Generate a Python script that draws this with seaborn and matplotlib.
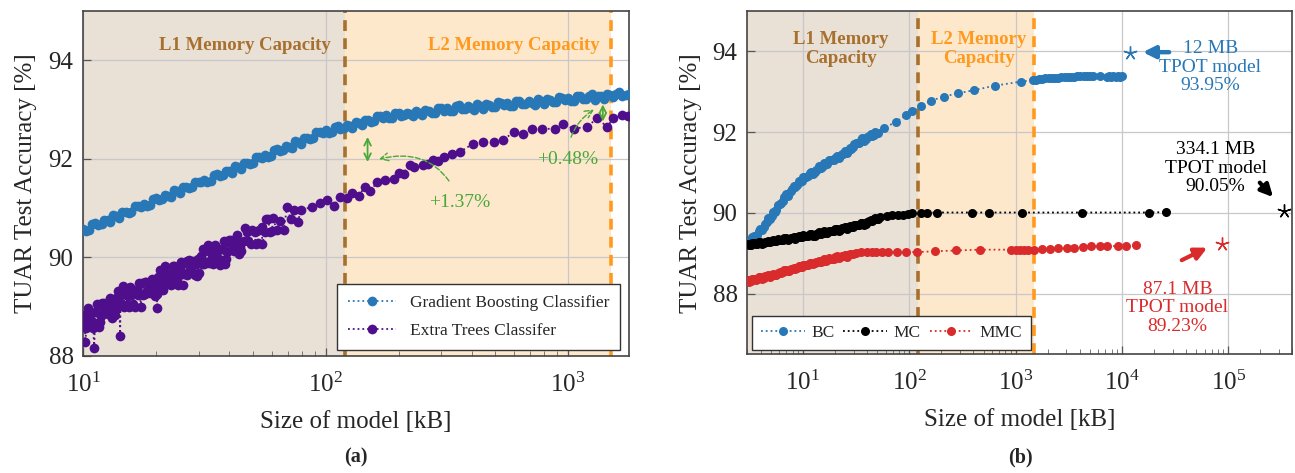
import matplotlib
matplotlib.use("Agg")
import matplotlib.pyplot as plt
import matplotlib.ticker as mticker
import pandas as pd
import seaborn as sns

# ---------------- panel (a): classifier size vs accuracy ----------------
gbc_size_a = [10.0, 10.6, 11.2, 11.9, 12.6, 13.3, 14.1, 15.0, 15.8, 16.8, 17.8, 18.8, 20.0,
              21.1, 22.4, 23.7, 25.1, 26.6, 28.2, 29.9, 31.6, 33.5, 35.5, 37.6, 39.8, 42.2,
              44.7, 47.3, 50.1, 53.1, 56.2, 59.6, 63.1, 66.8, 70.8, 75.0, 79.4, 84.1, 89.1,
              94.4, 100, 106, 112, 119, 126, 133, 141, 150, 158, 168, 178, 188, 200, 211,
              224, 237, 251, 266, 282, 299, 316, 335, 355, 376, 398, 422, 447, 473, 501,
              531, 562, 596, 631, 668, 708, 750, 794, 841, 891, 944, 1000, 1059, 1122, 1189,
              1259, 1334, 1413, 1496, 1585, 1679, 1778]
gbc_acc_a = [90.58, 90.56, 90.70, 90.68, 90.75, 90.86, 90.80, 90.92, 90.92, 91.04, 91.08,
             91.06, 91.20, 91.18, 91.25, 91.36, 91.30, 91.42, 91.42, 91.54, 91.58, 91.56,
             91.70, 91.68, 91.75, 91.86, 91.80, 91.92, 91.92, 92.04, 92.08, 92.06, 92.20,
             92.18, 92.25, 92.36, 92.30, 92.42, 92.42, 92.54, 92.58, 92.54, 92.66, 92.62,
             92.67, 92.74, 92.68, 92.78, 92.76, 92.86, 92.88, 92.83, 92.93, 92.88, 92.91,
             92.98, 92.89, 92.98, 92.94, 93.03, 93.03, 92.97, 93.10, 93.01, 93.04, 93.11,
             93.01, 93.09, 93.05, 93.13, 93.13, 93.07, 93.17, 93.11, 93.14, 93.21, 93.11,
             93.19, 93.15, 93.23, 93.23, 93.17, 93.27, 93.21, 93.32, 93.27, 93.21, 93.29,
             93.32, 93.27, 93.32]
gbc_size_b = [10.3, 10.9, 11.5, 12.2, 12.9, 13.7, 14.5, 15.4, 16.3, 17.3, 18.3, 19.4, 20.5,
              21.7, 23.0, 24.4, 25.8, 27.4, 29.0, 30.7, 32.5, 34.5, 36.5, 38.7, 41.0, 43.4,
              46.0, 48.7, 51.6, 54.6, 57.9, 61.3, 64.9, 68.8, 72.9, 77.2, 81.7, 86.6, 91.7,
              97.2, 103, 109, 115, 122, 129, 137, 145, 154, 163, 173, 183, 194, 205, 217,
              230, 244, 258, 274, 290, 307, 325, 345, 365, 387, 410, 434, 460, 487, 516,
              546, 579, 613, 649, 688, 729, 772, 817, 866, 917, 972, 1029, 1090, 1155, 1223,
              1296, 1373, 1454, 1540, 1632, 1728]
gbc_acc_b = [90.54, 90.68, 90.66, 90.76, 90.72, 90.84, 90.92, 90.90, 91.04, 91.02, 91.04,
             91.18, 91.16, 91.26, 91.22, 91.34, 91.42, 91.40, 91.54, 91.52, 91.54, 91.68,
             91.66, 91.76, 91.72, 91.84, 91.92, 91.90, 92.04, 92.02, 92.04, 92.18, 92.16,
             92.26, 92.22, 92.34, 92.42, 92.40, 92.54, 92.52, 92.53, 92.65, 92.61, 92.69,
             92.63, 92.73, 92.79, 92.75, 92.87, 92.83, 92.82, 92.92, 92.87, 92.93, 92.86,
             92.94, 92.99, 92.93, 93.04, 92.98, 92.97, 93.07, 93.01, 93.07, 92.99, 93.07,
             93.11, 93.05, 93.15, 93.09, 93.07, 93.17, 93.11, 93.17, 93.09, 93.17, 93.21,
             93.15, 93.25, 93.19, 93.17, 93.27, 93.21, 93.27, 93.19, 93.27, 93.31, 93.25,
             93.35, 93.29]

etc_size_a = [10.0, 10.3, 10.7, 11.0, 11.4, 11.8, 12.2, 12.6, 13.0, 13.5, 13.9, 14.4,
              14.9, 15.4, 15.9, 16.4, 17.0, 17.6, 18.2, 18.8, 19.5, 20.1, 20.8, 21.5,
              22.2, 23.0, 23.8, 24.6, 25.4, 26.3, 27.2, 28.1, 29.0, 30.0, 31.1, 32.1,
              33.2, 34.4, 35.5, 36.7, 38.0, 39.3, 40.6, 42.0, 43.4, 44.9, 46.4, 48.0,
              49.7, 51.4, 53.1, 54.9, 56.8, 58.7, 60.7, 62.8, 64.9, 67.1, 69.4, 71.8,
              74.2, 76.7, 79.3]
etc_acc_a = [88.84, 88.57, 88.84, 88.57, 89.06, 88.82, 89.08, 88.85, 89.02, 88.84,
             89.32, 89.06, 89.26, 89.00, 89.26, 89.00, 89.48, 89.24, 89.51, 89.27,
             89.45, 89.26, 89.75, 89.48, 89.69, 89.43, 89.69, 89.43, 89.91, 89.67,
             89.94, 89.70, 89.87, 89.69, 90.18, 89.91, 90.12, 89.86, 90.12, 89.85,
             90.34, 90.10, 90.36, 90.13, 90.30, 90.12, 90.60, 90.34, 90.55, 90.28,
             90.55, 90.28, 90.77, 90.52, 90.79, 90.56, 90.73, 90.55, 91.03, 90.77,
             90.97, 90.71, 90.97]
etc_size_b = [10.1, 10.5, 10.9, 11.2, 11.6, 12.0, 12.4, 12.8, 13.2, 13.7, 14.1, 14.6,
              15.1, 15.6, 16.1, 16.7, 17.3, 17.9, 18.5, 19.1, 19.8, 20.4, 21.1, 21.8,
              22.6, 23.4, 24.2, 25.0, 25.8, 26.7, 27.6, 28.5, 29.5, 30.5, 31.6, 32.6,
              33.8, 34.9, 36.1, 37.3, 38.6, 40.0, 41.3, 42.7, 44.1]
etc_acc_b = [88.62, 88.97, 88.64, 88.90, 88.58, 89.08, 88.91, 89.07, 88.78, 89.18,
             89.01, 89.41, 89.04, 89.40, 89.06, 89.33, 89.00, 89.50, 89.34, 89.49,
             89.21, 89.60, 89.44, 89.83, 89.47, 89.83, 89.49, 89.76, 89.43, 89.93,
             89.77, 89.92, 89.63, 90.03, 89.87, 90.26, 89.90, 90.26, 89.92, 90.18,
             89.86, 90.36, 90.19, 90.35, 90.06]
etc_size_c = [10.15, 10.6, 10.95, 11.3, 11.7, 12.1, 12.5, 12.9, 13.35, 13.8, 14.25, 14.75,
              15.25, 15.75, 16.25, 16.85, 17.45, 18.05, 18.65, 19.3, 19.95, 20.6, 21.3,
              22.0, 22.8, 23.6, 24.4, 25.2, 26.0, 26.9, 27.8, 28.8, 29.7, 30.8, 31.9, 33.0,
              34.1, 35.2, 36.4, 37.6, 38.9, 40.3, 41.6, 43.1, 44.5, 46.0, 47.6, 49.2, 50.9,
              52.6, 54.4, 56.2, 58.1, 60.1]
etc_acc_c = [88.73, 88.92, 88.68, 88.90, 88.69, 89.01, 88.91, 89.18, 88.93, 89.05, 89.24,
             89.00, 89.22, 89.01, 89.32, 89.23, 89.49, 89.25, 89.37, 89.56, 89.32, 89.54,
             89.33, 89.64, 89.55, 89.82, 89.57, 89.69, 89.88, 89.64, 89.87, 89.65, 89.96,
             89.87, 90.14, 89.89, 90.01, 90.21, 89.96, 90.18, 89.97, 90.29, 90.19, 90.46,
             90.21, 90.33, 90.52, 90.28, 90.51, 90.29, 90.61, 90.51, 90.78, 90.53]
etc_size_low = [10.2, 11.1, 14.2, 20.2]
etc_acc_low = [88.29, 88.16, 88.41, 88.98]
etc_size_large = [88, 95, 101, 108, 115, 122, 129, 137, 145, 153, 163, 176, 191, 200, 210,
                  222, 232, 252, 265, 277, 290, 307, 333, 358, 404, 445, 493, 542, 597, 650,
                  714, 785, 883, 957, 1055, 1197, 1320, 1450, 1540, 1670, 1770]
etc_acc_large = [91.02, 91.10, 91.16, 91.05, 91.23, 91.20, 91.30, 91.25, 91.43, 91.34,
                 91.53, 91.58, 91.60, 91.72, 91.70, 91.88, 91.84, 91.87, 91.90, 91.98,
                 91.95, 92.04, 92.10, 92.14, 92.30, 92.34, 92.34, 92.38, 92.55, 92.51,
                 92.61, 92.61, 92.61, 92.71, 92.61, 92.65, 92.82, 92.65, 92.82, 92.88,
                 92.87]

# ---------------- panel (b): BC / MC / MMC ----------------
small_size = [3.02, 3.24, 3.47, 3.72, 3.98, 4.27, 4.57, 4.90, 5.25, 5.62, 6.03, 6.46, 6.92,
              7.41, 7.94, 8.51, 9.12, 9.77, 10.5, 11.2, 12.0, 12.9, 13.8, 14.8, 15.8, 17.0,
              18.2, 19.5, 20.9, 22.4, 24.0, 25.7, 27.5, 29.5, 31.6, 33.9, 36.3, 38.9, 41.7,
              44.7, 47.9, 51.3]
small_size_mid = [3.13, 3.35, 3.59, 3.85, 4.12, 4.42, 4.73, 5.07, 5.43, 5.82, 6.24, 6.68,
                  7.16, 7.67, 8.22, 8.81, 9.44, 10.1, 10.8, 11.6, 12.4, 13.3, 14.3, 15.3,
                  16.4, 17.6, 18.8, 20.2, 21.6, 23.2, 24.8, 26.6, 28.5, 30.5, 32.7, 35.1,
                  37.6, 40.3, 43.2, 46.2, 49.5]

bc_acc_small = [89.29, 89.30, 89.42, 89.46, 89.59, 89.65, 89.78, 89.85, 90.03, 90.07, 90.23,
                90.29, 90.46, 90.49, 90.58, 90.63, 90.78, 90.80, 90.90, 90.91, 91.02, 91.02,
                91.09, 91.11, 91.23, 91.22, 91.31, 91.31, 91.41, 91.41, 91.47, 91.49, 91.61,
                91.62, 91.72, 91.74, 91.85, 91.84, 91.90, 91.90, 92.01, 91.99]
bc_acc_mid = [89.27, 89.40, 89.43, 89.54, 89.57, 89.73, 89.87, 89.93, 90.02, 90.19, 90.25,
              90.39, 90.42, 90.55, 90.66, 90.69, 90.76, 90.89, 90.90, 90.98, 90.97, 91.07,
              91.15, 91.16, 91.20, 91.30, 91.30, 91.37, 91.36, 91.46, 91.53, 91.54, 91.59,
              91.71, 91.72, 91.81, 91.79, 91.89, 91.95, 91.94, 91.97]
bc_size_large = [58, 75.5, 94, 107, 128, 161, 210, 286, 408, 634, 1120, 1470, 1549, 1660,
                 1778, 1905, 2042, 2188, 2344, 2512, 2692, 2884, 3090, 3311, 3548, 3802,
                 4074, 4365, 4677, 5012, 5370, 6166, 7244, 7586, 7943, 8318, 8710, 9120,
                 9550, 10000]
bc_acc_large = [92.10, 92.26, 92.43, 92.52, 92.65, 92.78, 92.88, 92.96, 93.04, 93.15, 93.25,
                93.29, 93.30, 93.31, 93.32, 93.33, 93.33, 93.34, 93.35, 93.35, 93.36, 93.36,
                93.37, 93.37, 93.37, 93.38, 93.38, 93.38, 93.38, 93.38, 93.38, 93.38, 93.37,
                93.38, 93.37, 93.38, 93.37, 93.38, 93.37, 93.38]

mc_acc_small = [89.24, 89.21, 89.25, 89.24, 89.29, 89.25, 89.28, 89.27, 89.33, 89.30, 89.34,
                89.33, 89.39, 89.35, 89.38, 89.36, 89.43, 89.40, 89.44, 89.44, 89.49, 89.44,
                89.49, 89.47, 89.54, 89.51, 89.56, 89.55, 89.61, 89.58, 89.62, 89.60, 89.67,
                89.65, 89.70, 89.70, 89.76, 89.73, 89.79, 89.79, 89.87, 89.86]
mc_acc_mid = [89.21, 89.26, 89.24, 89.29, 89.24, 89.29, 89.31, 89.31, 89.30, 89.35, 89.33,
              89.38, 89.34, 89.39, 89.41, 89.40, 89.40, 89.45, 89.43, 89.49, 89.44, 89.49,
              89.52, 89.51, 89.51, 89.56, 89.55, 89.60, 89.56, 89.62, 89.65, 89.64, 89.64,
              89.70, 89.69, 89.75, 89.71, 89.78, 89.83, 89.84, 89.85]
mc_size_large = [53, 62, 69, 79, 87, 97, 107, 128, 148, 183, 390, 565, 1150, 4200, 17800,
                 25900]
mc_acc_large = [89.89, 89.92, 89.94, 89.95, 89.96, 89.98, 89.99, 90.00, 90.00, 90.01, 90.01,
                90.01, 90.01, 90.01, 90.01, 90.02]

mmc_acc_small = [88.33, 88.31, 88.36, 88.36, 88.42, 88.39, 88.43, 88.42, 88.49, 88.47, 88.53,
                 88.53, 88.59, 88.57, 88.61, 88.60, 88.68, 88.66, 88.71, 88.71, 88.77, 88.75,
                 88.79, 88.78, 88.85, 88.83, 88.87, 88.87, 88.93, 88.90, 88.94, 88.92, 88.99]
mmc_acc_mid = [88.30, 88.36, 88.35, 88.41, 88.37, 88.43, 88.46, 88.46, 88.46, 88.52, 88.52,
               88.58, 88.55, 88.61, 88.64, 88.64, 88.65, 88.71, 88.70, 88.76, 88.73, 88.79,
               88.82, 88.82, 88.82, 88.88, 88.86, 88.92, 88.88, 88.94, 88.97, 88.96]
mmc_size_large = [29.5, 31.6, 35.5, 39.8, 44.7, 49, 55, 63, 76, 94, 118, 175, 274, 465, 912,
                  1000, 1096, 1202, 1318, 1479, 1778, 2089, 2512, 3020, 3548, 4266, 5129,
                  6166, 7244, 9120, 10965, 13490]
mmc_acc_large = [88.98, 89.00, 89.02, 89.03, 89.03, 89.03, 89.02, 89.03, 89.03, 89.03, 89.03,
                 89.05, 89.07, 89.09, 89.09, 89.09, 89.09, 89.09, 89.09, 89.09, 89.10, 89.11,
                 89.12, 89.13, 89.14, 89.16, 89.17, 89.18, 89.18, 89.18, 89.19, 89.20]

tpot_size = [12000, 334100, 87100]
tpot_acc = [93.95, 90.05, 89.23]
tpot_text = ["12 MB\nTPOT model\n93.95%", "334.1 MB\nTPOT model\n90.05%",
             "87.1 MB\nTPOT model\n89.23%"]

l1_capacity_kb = 120
l2_capacity_kb = 1500

# ---------------- style ----------------
sns.set_theme(style="whitegrid")
plt.rcParams["font.family"] = ["Liberation Serif", "DejaVu Serif"]
plt.rcParams["mathtext.fontset"] = "stix"

BLUE = "#2878b8"
PURPLE = "#4f0f8c"
RED = "#d92b2b"
GREEN = "#4aa83a"
L1_FILL = "#e9e0d6"
L2_FILL = "#fee8cc"
L1_EDGE = "#a8702e"
L2_EDGE = "#ff9a1f"

fig = plt.figure(figsize=(12.95, 4.73), dpi=100)
ax_a = fig.add_axes([0.0643, 0.2474, 0.4214, 0.7294])
ax_b = fig.add_axes([0.5771, 0.2510, 0.4208, 0.7258])


def frame(sizes, accs):
    df = pd.DataFrame({"size": sizes, "acc": accs})
    return df.sort_values("size", kind="stable").reset_index(drop=True)


def draw_series(ax, df, color, label, ms):
    sns.lineplot(data=df, x="size", y="acc", ax=ax, color=color, marker="o",
                 markersize=ms, markeredgewidth=0, linestyle=":", linewidth=1.3,
                 estimator=None, sort=False, label=label, zorder=3)


def style_axes(ax, xlim, ylim):
    ax.set_xscale("log")
    ax.set_xlim(*xlim)
    ax.set_ylim(*ylim)
    ax.set_yticks([88, 90, 92, 94])
    ax.xaxis.set_major_locator(mticker.LogLocator(base=10))
    ax.xaxis.set_minor_locator(mticker.LogLocator(base=10, subs=range(2, 10)))
    ax.xaxis.set_minor_formatter(mticker.NullFormatter())
    ax.grid(True, which="major", color="#c8c8c8", linewidth=0.9, zorder=0.5)
    ax.grid(False, which="minor")
    ax.tick_params(axis="both", which="major", direction="in", length=6, width=0.9,
                   color="#555555", labelsize=18, bottom=True, left=True)
    ax.tick_params(axis="y", which="major", pad=7)
    ax.tick_params(axis="x", which="major", pad=12)
    ax.tick_params(axis="x", which="minor", direction="in", length=3.5, width=0.7,
                   color="#777777", bottom=True)
    for s in ax.spines.values():
        s.set_color("#444444")
        s.set_linewidth(1.2)
    ax.set_xlabel("Size of model [kB]", fontsize=18, labelpad=10)
    ax.set_ylabel("TUAR Test Accuracy [%]", fontsize=18, labelpad=8)


def memory_bands(ax, xmin):
    ax.axvspan(xmin, l1_capacity_kb, color=L1_FILL, zorder=0, lw=0)
    ax.axvspan(l1_capacity_kb, l2_capacity_kb, color=L2_FILL, zorder=0, lw=0)
    ax.axvline(l1_capacity_kb, color=L1_EDGE, ls=(0, (3, 2)), lw=2.6, zorder=2)
    ax.axvline(l2_capacity_kb, color=L2_EDGE, ls=(0, (3, 2)), lw=2.6, zorder=2)


# ---- (a) ----
memory_bands(ax_a, 10)
gbc = frame(gbc_size_a + gbc_size_b, gbc_acc_a + gbc_acc_b)
etc = frame(etc_size_a + etc_size_b + etc_size_c + etc_size_low + etc_size_large,
            etc_acc_a + etc_acc_b + etc_acc_c + etc_acc_low + etc_acc_large)
draw_series(ax_a, gbc, BLUE, "Gradient Boosting Classifier", 7)
draw_series(ax_a, etc, PURPLE, "Extra Trees Classifer", 7)
style_axes(ax_a, (10, 1786), (88, 95))

ax_a.text(46.4, 94.30, "L1 Memory Capacity", color=L1_EDGE, fontsize=13.5,
          fontweight="bold", ha="center", va="center")
ax_a.text(598, 94.30, "L2 Memory Capacity", color=L2_EDGE, fontsize=13.5,
          fontweight="bold", ha="center", va="center")

# accuracy gaps between the two classifiers
ax_a.annotate("", xy=(149, 92.50), xytext=(149, 91.88),
              arrowprops=dict(arrowstyle="<->", color=GREEN, lw=1.3), zorder=4)
ax_a.annotate("+1.37%", xy=(162, 91.98), xytext=(359, 91.12), color=GREEN, fontsize=14,
              ha="center", va="center",
              arrowprops=dict(arrowstyle="->", color=GREEN, lw=1.0, ls="--",
                              connectionstyle="arc3,rad=0.45", shrinkA=8))
ax_a.annotate("", xy=(1393, 93.16), xytext=(1393, 92.70),
              arrowprops=dict(arrowstyle="<->", color=GREEN, lw=1.3), zorder=4)
ax_a.annotate("+0.48%", xy=(1310, 93.03), xytext=(1000, 91.98), color=GREEN, fontsize=14,
              ha="center", va="center",
              arrowprops=dict(arrowstyle="->", color=GREEN, lw=1.0, ls="--",
                              connectionstyle="arc3,rad=-0.3", shrinkA=8))

leg = ax_a.legend(loc="lower right", bbox_to_anchor=(0.99, 0.008), fontsize=12.5,
                  frameon=True, fancybox=False, framealpha=1, edgecolor="#333333",
                  handlelength=2.8, borderpad=0.6, labelspacing=0.7, borderaxespad=0.2)
leg.get_frame().set_linewidth(1.0)

# ---- (b) ----
memory_bands(ax_b, 3)
n_mmc = len(mmc_acc_small)
bc = frame(small_size + small_size_mid + bc_size_large,
           bc_acc_small + bc_acc_mid + bc_acc_large)
mc = frame(small_size + small_size_mid + mc_size_large,
           mc_acc_small + mc_acc_mid + mc_acc_large)
mmc = frame(small_size[:n_mmc] + small_size_mid[:len(mmc_acc_mid)] + mmc_size_large,
            mmc_acc_small + mmc_acc_mid + mmc_acc_large)
draw_series(ax_b, bc, BLUE, "BC", 6.5)
draw_series(ax_b, mc, "black", "MC", 6.5)
draw_series(ax_b, mmc, RED, "MMC", 6.5)
style_axes(ax_b, (3, 4.0e5), (86.5, 95))

ax_b.text(22.8, 94.07, "L1 Memory\nCapacity", color=L1_EDGE, fontsize=13.5,
          fontweight="bold", ha="center", va="center", linespacing=1.15)
ax_b.text(450, 94.07, "L2 Memory\nCapacity", color=L2_EDGE, fontsize=13.5,
          fontweight="bold", ha="center", va="center", linespacing=1.15)

tpot_colors = [BLUE, "black", RED]
for sz, acc, c in zip(tpot_size, tpot_acc, tpot_colors):
    ax_b.plot([sz], [acc], marker=(5, 2, 0), markersize=10, mew=1.0, color=c,
              linestyle="none", zorder=4)

ax_b.annotate("", xy=(14800, 93.98), xytext=(29500, 93.98),
              arrowprops=dict(arrowstyle="-|>,head_length=0.6,head_width=0.3",
                              color=BLUE, lw=3.2))
ax_b.text(67600, 93.61, tpot_text[0], color=BLUE, fontsize=14, ha="center", va="center",
          linespacing=1.1)
ax_b.annotate("", xy=(275000, 90.34), xytext=(190000, 90.80),
              arrowprops=dict(arrowstyle="-|>,head_length=0.6,head_width=0.3",
                              color="black", lw=3.0))
ax_b.text(76000, 91.11, tpot_text[1], color="black", fontsize=14, ha="center",
          va="center", linespacing=1.1)
ax_b.annotate("", xy=(67000, 89.17), xytext=(34600, 88.80),
              arrowprops=dict(arrowstyle="-|>,head_length=0.6,head_width=0.3",
                              color=RED, lw=3.0))
ax_b.text(33300, 87.65, tpot_text[2], color=RED, fontsize=14, ha="center", va="center",
          linespacing=1.1)

leg_b = ax_b.legend(loc="lower left", bbox_to_anchor=(0.003, 0.003), ncol=3, fontsize=12.5,
                    frameon=True, fancybox=False, framealpha=1, edgecolor="#333333",
                    handlelength=2.5, borderpad=0.5, columnspacing=0.5, handletextpad=0.4,
                    borderaxespad=0.2)
leg_b.get_frame().set_linewidth(1.0)

fig.text(0.275, 0.032, "(a)", fontsize=14.5, fontweight="bold", ha="center", va="center")
fig.text(0.788, 0.032, "(b)", fontsize=14.5, fontweight="bold", ha="center", va="center")

fig.savefig("out.png", dpi=100)
